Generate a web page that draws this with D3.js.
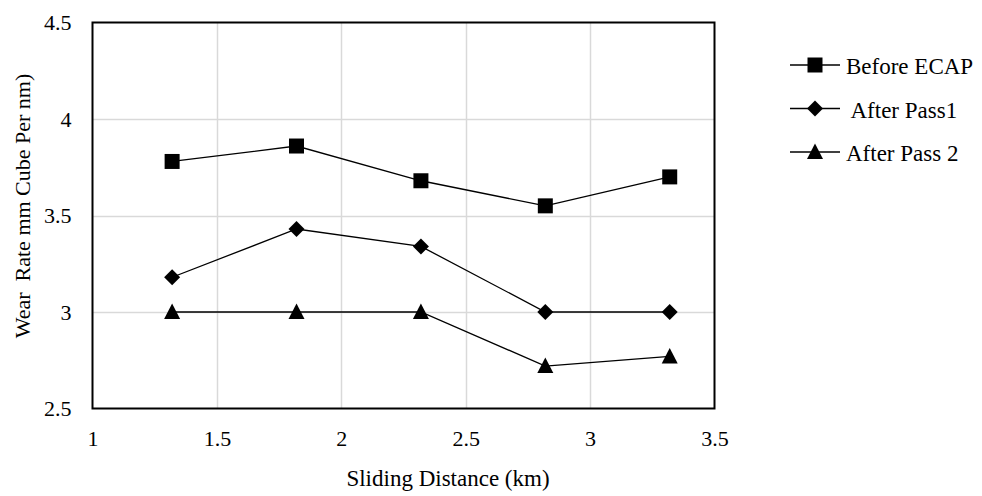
<!DOCTYPE html>
<html><head><meta charset="utf-8">
<script src="https://cdn.jsdelivr.net/npm/d3@7"></script>
<style>body{margin:0;background:#fff;} svg{display:block;font-family:"Liberation Serif","Times New Roman",serif;}</style>
</head><body>
<svg id="c" width="982" height="496"></svg>
<script>
const distances = [1.32, 1.82, 2.32, 2.82, 3.32];
const beforeECAP = [3.78, 3.86, 3.68, 3.55, 3.70];
const afterPass1 = [3.18, 3.43, 3.34, 3.00, 3.00];
const afterPass2 = [3.00, 3.00, 3.00, 2.72, 2.77];
const seriesNames = ["Before ECAP", " After Pass1", "After Pass 2"];
const xTicks = [1, 1.5, 2, 2.5, 3, 3.5];
const yTicks = [2.5, 3, 3.5, 4, 4.5];
const xTitle = "Sliding Distance (km)";
const yTitle = "Wear  Rate mm Cube Per nm)";

const TICK_FS = 22, TITLE_FS = 23, YTITLE_FS = 22;
const series = [
  {name: seriesNames[0], values: beforeECAP, sym: "square"},
  {name: seriesNames[1], values: afterPass1, sym: "diamond"},
  {name: seriesNames[2], values: afterPass2, sym: "triangle"}
];

const svg = d3.select("#c");
const L = 92.5, R = 714.5, T = 22.5, B = 408.5;
const x = d3.scaleLinear().domain([1, 3.5]).range([L, R]);
const y = d3.scaleLinear().domain([2.5, 4.5]).range([B, T]);

// gridlines
svg.append("g").selectAll("line").data(xTicks.slice(1, -1)).join("line")
  .attr("x1", d => Math.round(x(d)) + 0.5).attr("x2", d => Math.round(x(d)) + 0.5)
  .attr("y1", T).attr("y2", B).attr("stroke", "#d9d9d9").attr("stroke-width", 1.5);
svg.append("g").selectAll("line").data(yTicks.slice(1, -1)).join("line")
  .attr("y1", d => Math.round(y(d)) + 0.5).attr("y2", d => Math.round(y(d)) + 0.5)
  .attr("x1", L).attr("x2", R).attr("stroke", "#d9d9d9").attr("stroke-width", 1.5);

// frame
svg.append("rect").attr("x", L).attr("y", T).attr("width", R - L).attr("height", B - T)
  .attr("fill", "none").attr("stroke", "#000").attr("stroke-width", 2);

// tick labels via d3 axes
const xAxis = d3.axisBottom(x).tickValues(xTicks).tickSize(0).tickPadding(22).tickFormat(d3.format("~g"));
const gx = svg.append("g").attr("transform", `translate(0,${B})`).call(xAxis);
gx.select(".domain").remove();
gx.attr("font-size", null).attr("font-family", null);
gx.selectAll("text").attr("font-size", TICK_FS).attr("fill", "#000");

const yAxis = d3.axisLeft(y).tickValues(yTicks).tickSize(0).tickPadding(21).tickFormat(d3.format("~g"));
const gy = svg.append("g").attr("transform", `translate(${L},0)`).call(yAxis);
gy.select(".domain").remove();
gy.attr("font-size", null).attr("font-family", null);
gy.selectAll("text").attr("font-size", TICK_FS).attr("fill", "#000");

// titles
svg.append("text").attr("x", 448).attr("y", 486).attr("text-anchor", "middle")
  .attr("font-size", TITLE_FS).text(xTitle);
svg.append("text").attr("transform", "translate(30,206) rotate(-90)").attr("text-anchor", "middle")
  .attr("font-size", YTITLE_FS).style("white-space", "pre").text(yTitle);

function marker(sel, sym) {
  if (sym === "diamond") sel.attr("d", "M0,-8L8,0L0,8L-8,0Z");
  else if (sym === "square") sel.attr("d", "M-7.5,-7.5H7.5V7.5H-7.5Z");
  else sel.attr("d", "M0,-8.5L8,7L-8,7Z");
}

const line = d3.line().x((d, i) => x(distances[i])).y(d => y(d));
series.forEach(s => {
  svg.append("path").datum(s.values).attr("d", line).attr("fill", "none")
    .attr("stroke", "#000").attr("stroke-width", 1.3);
  svg.append("g").selectAll("path").data(s.values).join("path")
    .attr("transform", (d, i) => `translate(${x(distances[i])},${y(d)})`)
    .attr("fill", "#000").call(marker, s.sym);
});

// legend
const lg = svg.append("g");
series.forEach((s, i) => {
  const yy = 65 + i * 43.5;
  lg.append("line").attr("x1", 790).attr("x2", 840).attr("y1", yy).attr("y2", yy)
    .attr("stroke", "#000").attr("stroke-width", 1.3);
  lg.append("path").attr("transform", `translate(815,${yy})`).attr("fill", "#000").call(marker, s.sym);
  lg.append("text").attr("x", 846).attr("y", yy + 9).attr("font-size", TITLE_FS)
    .style("white-space", "pre").text(s.name);
});
</script>
</body></html>
